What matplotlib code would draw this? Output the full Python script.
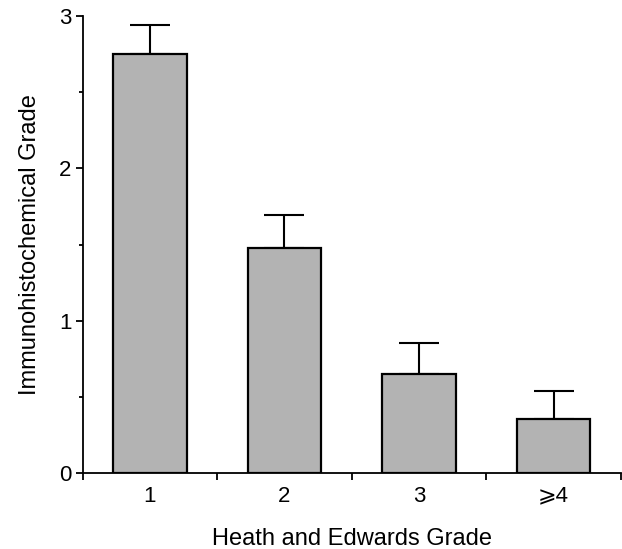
import matplotlib
matplotlib.use('Agg')
import matplotlib.pyplot as plt
import numpy as np

plt.rcParams['font.family'] = ['Liberation Sans', 'DejaVu Sans']

# data
categories = ['1', '2', '3', '\u2a7e4']
means = [2.75, 1.48, 0.65, 0.355]
sem_up = [0.19, 0.213, 0.205, 0.186]

fig = plt.figure(figsize=(6.22, 5.49), dpi=100)
ax = fig.add_axes([0.133, 0.138, 0.865, 0.833])

x = np.arange(1, len(categories) + 1)

# error bars (upper only) drawn under the bars
ax.errorbar(x, means, yerr=[np.zeros(len(means)), sem_up], fmt='none',
            ecolor='black', elinewidth=1.5, capsize=14.4, capthick=1.5, zorder=1)
ax.bar(x, means, width=0.545, color='#b3b3b3', edgecolor='black',
       linewidth=1.6, zorder=2)

ax.set_xlim(0.5, 4.5)
ax.set_ylim(0, 3)

for side in ['top', 'right']:
    ax.spines[side].set_visible(False)
for side in ['left', 'bottom']:
    ax.spines[side].set_linewidth(1.3)

# x: separator ticks between the groups, labels under the bars
ax.set_xticks([0.5, 1.5, 2.5, 3.5, 4.5])
ax.set_xticklabels([])
ax.set_xticks(x, minor=True)
ax.set_xticklabels(categories, minor=True)
ax.tick_params(axis='x', which='major', length=5, width=1.3, direction='out')
ax.tick_params(axis='x', which='minor', length=0, pad=9, labelsize=16)

# y: major at integers, short minor at halves
ax.set_yticks([0, 1, 2, 3])
ax.set_yticks(np.arange(0.5, 3, 1.0), minor=True)
ax.tick_params(axis='y', which='major', length=5, width=1.3, labelsize=16, pad=3)
ax.tick_params(axis='y', which='minor', length=3, width=1.3)

ax.set_xlabel('Heath and Edwards Grade', fontsize=17, labelpad=15)
ax.set_ylabel('Immunohistochemical Grade', fontsize=17, labelpad=13)

fig.savefig('out.png', dpi=100)
